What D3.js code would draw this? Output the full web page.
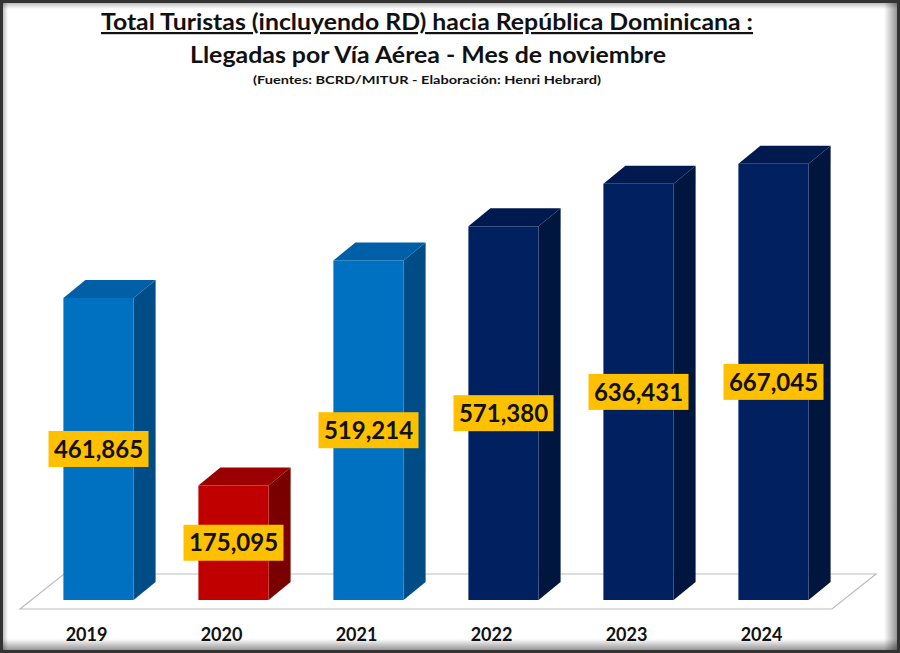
<!DOCTYPE html>
<html>
<head>
<meta charset="utf-8">
<script src="https://cdn.jsdelivr.net/npm/d3@7"></script>
<style>
  body { margin: 0; background: #fff; }
  svg { display: block; }
</style>
</head>
<body>
<div id="chart"></div>
<script>
// data
const years = ["2019", "2020", "2021", "2022", "2023", "2024"];
const arrivals = [461865, 175095, 519214, 571380, 636431, 667045];
const barColors = ["blue", "red", "blue", "navy", "navy", "navy"];

const palette = {
    blue: { front: "#0070C0", top: "#005FA6", side: "#004C87" },
    red:  { front: "#C00000", top: "#9A0000", side: "#7A0000" },
    navy: { front: "#002060", top: "#001A4F", side: "#00163F" }
};

const width = 900;
const height = 653;

// depth of the floor and of the bars (oblique projection)
const floorDx = 44, floorDy = 35;
const barFrontY = 600;
const barDx = 22, barDy = 18;

const svg = d3.select("#chart")
    .append("svg")
    .attr("width", width)
    .attr("height", height)
    .style("font-family", "Lato, 'Open Sans', sans-serif");

svg.append("rect")
    .attr("width", width)
    .attr("height", height)
    .attr("fill", "#fff");

const xScale = d3.scaleBand()
    .domain(years)
    .range([31, 841])
    .paddingInner(0.48)
    .paddingOuter(0.24);

const yScale = d3.scaleLinear()
    .domain([0, 700000])
    .range([barFrontY, barFrontY - 700000 * 0.000654]);

// floor
const fx0 = 20, fx1 = 832, fy = 609;
svg.append("path")
    .attr("d", `M${fx0},${fy}L${fx1},${fy}L${fx1 + floorDx},${fy - floorDy}L${fx0 + floorDx},${fy - floorDy}Z`)
    .attr("fill", "#fff")
    .attr("stroke", "#bdbdbd")
    .attr("stroke-width", 1.2);

const bars = svg.selectAll(".bar")
    .data(years.map((y, i) => ({ year: y, value: arrivals[i], c: palette[barColors[i]] })))
    .enter()
    .append("g")
    .attr("class", "bar");

// side face
bars.append("path")
    .attr("d", d => {
        const x = xScale(d.year) + xScale.bandwidth();
        const t = yScale(d.value);
        return `M${x},${barFrontY}L${x},${t}L${x + barDx},${t - barDy}L${x + barDx},${barFrontY - barDy}Z`;
    })
    .attr("fill", d => d.c.side);

// top face
bars.append("path")
    .attr("d", d => {
        const x = xScale(d.year);
        const w = xScale.bandwidth();
        const t = yScale(d.value);
        return `M${x},${t}L${x + w},${t}L${x + w + barDx},${t - barDy}L${x + barDx},${t - barDy}Z`;
    })
    .attr("fill", d => d.c.top);

// front face
bars.append("rect")
    .attr("x", d => xScale(d.year))
    .attr("y", d => yScale(d.value))
    .attr("width", xScale.bandwidth())
    .attr("height", d => barFrontY - yScale(d.value))
    .attr("fill", d => d.c.front);

// value labels
const fmt = d3.format(",");
const labels = bars.append("g")
    .attr("transform", d => `translate(${xScale(d.year) + xScale.bandwidth() / 2},${(yScale(d.value) + barFrontY) / 2})`);

labels.append("rect")
    .attr("x", -50)
    .attr("y", -18)
    .attr("width", 100)
    .attr("height", 36)
    .attr("fill", "#FFC000");

labels.append("text")
    .attr("text-anchor", "middle")
    .attr("dy", "0.36em")
    .attr("font-size", "24px")
    .attr("font-weight", "bold")
    .attr("fill", "#111")
    .text(d => fmt(d.value));

// category axis along the front edge of the floor
const xAxis = d3.axisBottom(xScale).tickSize(0).tickPadding(0);
svg.append("g")
    .attr("transform", `translate(-12,${fy + 32})`)
    .call(xAxis)
    .call(g => g.select(".domain").remove())
    .selectAll("text")
    .attr("dy", 0)
    .attr("font-family", "Lato, 'Open Sans', sans-serif")
    .attr("font-size", "18px")
    .attr("font-weight", "bold")
    .attr("fill", "#111");

// titles
svg.append("text")
    .attr("x", 427)
    .attr("y", 30)
    .attr("text-anchor", "middle")
    .attr("font-size", "22px")
    .attr("font-weight", "bold")
    .attr("text-decoration", "underline")
    .attr("textLength", 652)
    .attr("lengthAdjust", "spacingAndGlyphs")
    .attr("fill", "#111")
    .text("Total Turistas (incluyendo RD) hacia República Dominicana :");

svg.append("text")
    .attr("x", 428)
    .attr("y", 63)
    .attr("text-anchor", "middle")
    .attr("font-size", "23px")
    .attr("font-weight", "bold")
    .attr("textLength", 476)
    .attr("lengthAdjust", "spacingAndGlyphs")
    .attr("fill", "#111")
    .text("Llegadas por Vía Aérea - Mes de noviembre");

svg.append("text")
    .attr("x", 427)
    .attr("y", 84)
    .attr("text-anchor", "middle")
    .attr("font-size", "11.5px")
    .attr("font-weight", "bold")
    .attr("textLength", 348)
    .attr("lengthAdjust", "spacingAndGlyphs")
    .attr("fill", "#111")
    .text("(Fuentes: BCRD/MITUR - Elaboración: Henri Hebrard)");

// frame with inner shadow
const defs = svg.append("defs");
const gradR = defs.append("linearGradient").attr("id", "shR").attr("x1", 0).attr("x2", 1).attr("y1", 0).attr("y2", 0);
gradR.append("stop").attr("offset", 0).attr("stop-color", "#000").attr("stop-opacity", 0);
gradR.append("stop").attr("offset", 1).attr("stop-color", "#000").attr("stop-opacity", 0.45);
const gradB = defs.append("linearGradient").attr("id", "shB").attr("x1", 0).attr("x2", 0).attr("y1", 0).attr("y2", 1);
gradB.append("stop").attr("offset", 0).attr("stop-color", "#000").attr("stop-opacity", 0);
gradB.append("stop").attr("offset", 1).attr("stop-color", "#000").attr("stop-opacity", 0.45);
const gradT = defs.append("linearGradient").attr("id", "shT").attr("x1", 0).attr("x2", 0).attr("y1", 1).attr("y2", 0);
gradT.append("stop").attr("offset", 0).attr("stop-color", "#000").attr("stop-opacity", 0);
gradT.append("stop").attr("offset", 1).attr("stop-color", "#000").attr("stop-opacity", 0.3);
const gradL = defs.append("linearGradient").attr("id", "shL").attr("x1", 1).attr("x2", 0).attr("y1", 0).attr("y2", 0);
gradL.append("stop").attr("offset", 0).attr("stop-color", "#000").attr("stop-opacity", 0);
gradL.append("stop").attr("offset", 1).attr("stop-color", "#000").attr("stop-opacity", 0.3);

svg.append("rect").attr("x", width - 16).attr("y", 0).attr("width", 14).attr("height", height).attr("fill", "url(#shR)");
svg.append("rect").attr("x", 0).attr("y", height - 14).attr("width", width).attr("height", 12).attr("fill", "url(#shB)");
svg.append("rect").attr("x", 0).attr("y", 2).attr("width", width).attr("height", 7).attr("fill", "url(#shT)");
svg.append("rect").attr("x", 2).attr("y", 0).attr("width", 6).attr("height", height).attr("fill", "url(#shL)");

svg.append("rect")
    .attr("x", 1.5)
    .attr("y", 1.5)
    .attr("width", width - 3)
    .attr("height", height - 3)
    .attr("fill", "none")
    .attr("stroke", "#333")
    .attr("stroke-width", 3);
</script>
</body>
</html>
